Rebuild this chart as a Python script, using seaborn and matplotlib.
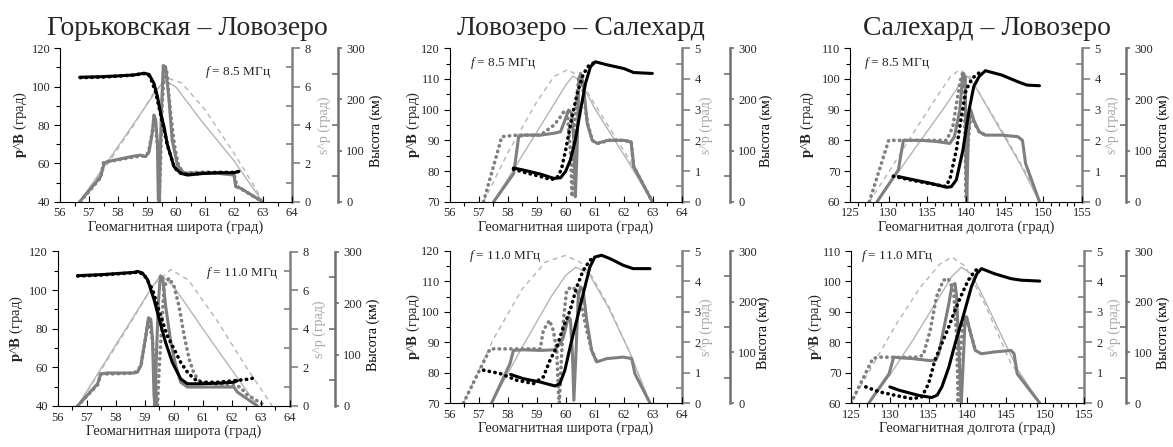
import matplotlib
matplotlib.use("Agg")
import matplotlib.pyplot as plt
import seaborn as sns
from matplotlib.ticker import MultipleLocator

# ---------------- DATA ----------------
titles = ["Горьковская – Ловозеро", "Ловозеро – Салехард", "Салехард – Ловозеро"]
freq_labels = ["8.5 МГц", "11.0 МГц"]
xlabel_lat = "Геомагнитная широта (град)"
xlabel_lon = "Геомагнитная долгота (град)"

# Panel 1: Горьковская – Ловозеро, 8.5 MHz
p1_bs_x = [56.68, 57.4, 58.0, 58.55, 58.9, 59.07, 59.24, 59.36, 59.47, 59.59, 59.7, 59.93, 60.16, 60.4, 60.85, 61.43, 62.0, 62.17]
p1_bs_y = [104.9, 105.2, 105.6, 106.1, 107.0, 106.4, 101.7, 94.8, 86.0, 79.0, 70.0, 58.3, 54.8, 53.9, 54.6, 55.1, 55.1, 55.8]
p1_bd_x = [56.7, 57.5, 58.5, 58.9, 59.1, 59.3, 59.5, 59.7, 59.95, 60.2, 60.5, 61.0, 61.5, 62.0, 62.2]
p1_bd_y = [104.7, 105.0, 106.0, 106.8, 105.5, 97.0, 83.5, 69.5, 57.5, 54.5, 54.2, 55.0, 55.3, 55.3, 55.9]
p1_gs_x = [56.68, 57.4, 57.52, 57.63, 57.98, 58.55, 58.78, 58.95, 59.07, 59.18, 59.24, 59.3, 59.36, 59.39, 59.43, 59.45, 59.49, 59.56, 59.64, 59.76, 59.87, 60.05, 60.28, 60.85, 61.43, 62.0, 62.06, 62.23, 62.98]
p1_gs_y = [0, 1.3, 2.0, 2.09, 2.2, 2.38, 2.43, 2.35, 2.6, 3.57, 4.52, 4.26, 3.04, 0.1, 0, 1.8, 4.4, 7.1, 7.04, 5.3, 3.2, 1.9, 1.48, 1.51, 1.48, 1.39, 0.78, 0.7, 0]
p1_gd_x = [56.7, 57.4, 57.5, 58.0, 58.6, 58.9, 59.05, 59.2, 59.28, 59.38, 59.42, 59.47, 59.52, 59.6, 59.68, 59.8, 59.95, 60.1, 60.3, 61.0, 61.5, 62.0, 62.1, 62.98]
p1_gd_y = [0, 1.25, 2.05, 2.18, 2.35, 2.38, 2.55, 3.8, 4.3, 2.5, 0, 2.2, 5.0, 6.9, 6.8, 4.8, 2.9, 1.8, 1.5, 1.55, 1.5, 1.45, 0.8, 0]
p1_hs_x = [56.68, 57.5, 58.5, 59.2, 59.6, 60.0, 60.85, 62.0, 62.98]
p1_hs_y = [0, 67, 149, 207, 238, 224, 160, 80, 0]
p1_hd_x = [56.68, 57.5, 58.5, 59.2, 59.7, 60.2, 61.0, 62.0, 62.7, 63.0]
p1_hd_y = [0, 62, 146, 210, 242, 232, 180, 95, 30, 0]

# Panel 2: Ловозеро – Салехард, 8.5 MHz
p2_bs_x = [58.2, 58.55, 59.13, 59.59, 59.82, 59.99, 60.16, 60.33, 60.51, 60.68, 60.85, 61.02, 61.43, 62.0, 62.34, 62.98]
p2_bs_y = [81.0, 80.3, 79.0, 77.6, 77.8, 79.8, 83.6, 90.1, 99.9, 108.6, 114.0, 115.6, 114.6, 113.4, 112.1, 111.8]
p2_bd_x = [58.2, 58.6, 59.1, 59.5, 59.7, 59.85, 60.0, 60.2, 60.4, 60.6, 60.8, 61.0]
p2_bd_y = [80.6, 79.5, 78.3, 77.2, 77.8, 80.5, 87.0, 97.0, 105.5, 111.5, 114.5, 115.4]
p2_gs_x = [57.52, 58.21, 58.38, 58.55, 59.13, 59.59, 59.82, 59.93, 60.1, 60.2, 60.28, 60.33, 60.39, 60.45, 60.51, 60.6, 60.74, 60.91, 61.08, 61.43, 62.0, 62.25, 62.34, 62.98]
p2_gs_y = [0, 0.92, 2.12, 2.17, 2.17, 2.23, 2.28, 2.55, 2.99, 2.88, 2.0, 0.16, 1.68, 3.97, 4.18, 3.86, 2.55, 2.0, 1.9, 2.0, 2.0, 1.95, 1.14, 0]
p2_gd_x = [57.17, 57.8, 58.32, 59.13, 59.6, 59.82, 59.93, 60.05, 60.16, 60.22, 60.3, 60.45, 60.57, 60.74, 60.91, 61.1, 61.5, 62.0, 62.25, 62.34, 62.98]
p2_gd_y = [0, 2.12, 2.17, 2.17, 2.5, 2.77, 2.93, 2.95, 1.68, 0.16, 2.5, 4.08, 3.8, 2.6, 2.0, 1.9, 2.0, 2.0, 1.95, 1.14, 0]
p2_hs_x = [57.52, 58.5, 59.5, 60.0, 60.25, 60.5, 61.0, 62.0, 62.98]
p2_hs_y = [0, 90, 182, 228, 246, 236, 182, 92, 0]
p2_hd_x = [57.17, 58.0, 59.0, 59.6, 60.05, 60.4, 61.0, 62.0, 62.98]
p2_hd_y = [0, 95, 195, 245, 258, 248, 190, 100, 0]

# Panel 3: Салехард – Ловозеро, 8.5 MHz
p3_bs_x = [131.25, 133.3, 135.4, 137.5, 138.1, 138.75, 139.6, 140.4, 141.0, 141.7, 142.5, 144.6, 146.7, 147.9, 149.5]
p3_bs_y = [68.2, 67.1, 66.0, 64.7, 64.9, 67.1, 76.8, 89.9, 97.5, 100.8, 102.7, 101.3, 99.1, 98.0, 97.8]
p3_bd_x = [130.6, 133.0, 135.5, 137.3, 137.9, 138.75, 139.4, 140.0, 140.8, 141.7]
p3_bd_y = [68.3, 67.0, 65.8, 65.0, 67.1, 76.8, 87.7, 96.4, 100.2, 102.0]
p3_gs_x = [128.5, 131.25, 131.9, 134.2, 136.25, 137.9, 138.5, 139.2, 139.6, 139.9, 140.0, 140.1, 140.3, 140.6, 141.0, 141.7, 142.5, 144.6, 146.7, 147.3, 147.7, 149.5]
p3_gs_y = [0, 1.03, 2.0, 2.0, 1.96, 1.9, 2.12, 2.99, 4.18, 4.08, 1.14, 0, 2.23, 3.0, 2.66, 2.28, 2.17, 2.17, 2.12, 2.0, 1.25, 0]
p3_gd_x = [127.5, 130.0, 132.0, 135.0, 137.5, 138.3, 139.2, 139.6, 139.8, 140.0, 140.2, 140.6, 141.0, 141.7, 142.5]
p3_gd_y = [0, 2.0, 2.0, 2.0, 2.0, 2.45, 3.86, 4.24, 3.2, 0.16, 1.68, 2.88, 2.6, 2.28, 2.17]
p3_hs_x = [128.5, 131.0, 134.0, 137.0, 139.0, 140.2, 141.5, 144.0, 147.0, 149.5]
p3_hs_y = [0, 53, 117, 180, 225, 245, 218, 152, 74, 0]
p3_hd_x = [127.5, 130.0, 133.0, 136.0, 138.0, 139.2, 140.5, 142.0, 145.0, 148.0, 149.5]
p3_hd_y = [0, 58, 130, 200, 245, 258, 245, 205, 130, 50, 0]

# Panel 4: Горьковская – Ловозеро, 11.0 MHz
p4_bs_x = [56.69, 57.49, 58.64, 58.75, 58.92, 59.1, 59.32, 59.5, 59.72, 59.95, 60.24, 60.47, 60.93, 61.5, 62.07, 62.19]
p4_bs_y = [107.5, 108.0, 109.2, 109.7, 108.9, 105.4, 95.2, 84.9, 72.9, 62.6, 54.0, 51.5, 51.5, 51.8, 52.3, 53.1]
p4_bd_x = [56.7, 57.5, 58.6, 58.8, 59.0, 59.27, 59.55, 59.78, 60.01, 60.24, 60.47, 60.7, 60.93, 61.5, 62.07, 62.65, 62.76]
p4_bd_y = [107.3, 107.8, 109.0, 109.4, 107.5, 100.3, 86.6, 76.3, 69.5, 62.6, 57.5, 54.0, 52.3, 52.3, 53.1, 54.0, 54.7]
p4_gs_x = [56.69, 57.38, 57.49, 57.72, 58.64, 58.75, 58.87, 59.04, 59.13, 59.21, 59.27, 59.32, 59.36, 59.4, 59.47, 59.54, 59.62, 59.72, 59.9, 60.07, 60.24, 60.47, 60.93, 61.5, 62.07, 62.19, 62.88]
p4_gs_y = [0, 1.15, 1.66, 1.71, 1.71, 1.75, 2.1, 3.63, 4.57, 4.49, 3.46, 0.55, 0, 2.43, 5.35, 6.72, 6.63, 5.18, 3.29, 2.09, 1.23, 0.98, 0.98, 0.98, 0.98, 0.72, 0]
p4_gd_x = [56.69, 57.38, 57.49, 58.64, 58.87, 59.13, 59.27, 59.4, 59.44, 59.5, 59.67, 59.84, 60.01, 60.18, 60.36, 60.53, 60.7, 60.93, 61.5, 62.07, 62.3, 62.48, 63.16]
p4_gd_y = [0, 1.1, 1.65, 1.7, 2.05, 4.5, 3.4, 0.5, 0, 2.0, 6.2, 6.63, 6.2, 5.18, 3.63, 2.43, 1.66, 1.23, 1.11, 1.06, 0.98, 0.63, 0]
p4_hs_x = [56.69, 57.5, 58.5, 59.2, 59.55, 60.0, 61.0, 62.0, 62.88]
p4_hs_y = [0, 73, 163, 226, 255, 232, 150, 70, 0]
p4_hd_x = [56.69, 57.5, 58.5, 59.3, 59.9, 60.5, 61.5, 62.5, 63.39]
p4_hd_y = [0, 70, 160, 235, 265, 245, 165, 75, 0]

# Panel 5: Ловозеро – Салехард, 11.0 MHz
p5_bs_x = [58.1, 58.54, 59.12, 59.63, 59.8, 59.97, 60.15, 60.32, 60.49, 60.66, 60.83, 61.0, 61.23, 61.52, 61.98, 62.32, 62.9]
p5_bs_y = [79.4, 78.0, 76.9, 75.6, 76.4, 80.8, 88.4, 95.0, 101.6, 108.2, 114.7, 118.0, 118.6, 117.5, 115.3, 114.2, 114.2]
p5_bd_x = [57.17, 57.74, 58.31, 58.89, 59.23, 59.46, 59.69, 59.92, 60.15, 60.38, 60.6, 60.83, 61.0]
p5_bd_y = [80.8, 79.7, 77.5, 76.4, 78.6, 84.1, 88.4, 95.0, 100.5, 108.2, 113.6, 116.9, 118.2]
p5_gs_x = [57.45, 58.08, 58.2, 58.54, 59.12, 59.63, 59.8, 59.92, 60.09, 60.16, 60.23, 60.28, 60.35, 60.43, 60.51, 60.6, 60.72, 60.89, 61.06, 61.41, 61.98, 62.27, 62.38, 62.9]
p5_gs_y = [0, 1.29, 1.73, 1.75, 1.73, 1.75, 1.95, 2.17, 2.83, 2.75, 1.62, 0.09, 1.62, 3.49, 3.82, 3.7, 2.72, 1.73, 1.35, 1.46, 1.51, 1.46, 0.96, 0]
p5_gd_x = [56.48, 57.23, 57.4, 57.97, 58.54, 59.12, 59.23, 59.44, 59.57, 59.69, 59.75, 59.78, 59.83, 59.92, 60.03, 60.2, 60.38, 60.55, 60.72, 60.89, 61.06]
p5_gd_y = [0, 1.46, 1.78, 1.78, 1.78, 1.78, 2.39, 2.72, 2.39, 1.73, 0.31, 0, 1.07, 2.72, 3.71, 3.82, 3.71, 3.16, 2.39, 1.73, 1.38]
p5_hs_x = [57.45, 58.5, 59.5, 60.0, 60.35, 60.8, 61.5, 62.2, 62.9]
p5_hs_y = [0, 110, 210, 252, 268, 255, 185, 100, 0]
p5_hd_x = [56.48, 57.5, 58.5, 59.3, 59.97, 60.5, 60.9, 61.5, 62.2, 62.9]
p5_hd_y = [0, 125, 225, 278, 291, 278, 250, 188, 100, 0]

# Panel 6: Салехард – Ловозеро, 11.0 MHz
p6_bs_x = [130.0, 131.2, 133.7, 135.4, 136.1, 136.7, 137.6, 138.4, 139.3, 139.9, 140.5, 141.2, 141.8, 143.5, 145.6, 146.9, 149.3]
p6_bs_y = [65.3, 64.2, 62.5, 61.8, 62.6, 65.3, 71.8, 79.5, 87.2, 92.7, 98.2, 102.5, 104.2, 102.5, 100.9, 100.4, 100.1]
p6_bd_x = [126.9, 128.6, 130.7, 132.9, 134.1, 135.0, 135.8, 136.7, 137.6, 138.4, 139.3, 140.1, 141.0, 141.6]
p6_bd_y = [65.3, 63.7, 62.5, 61.4, 62.0, 66.4, 74.1, 79.6, 85.1, 90.6, 96.0, 100.4, 103.6, 104.2]
p6_gs_x = [127.3, 129.9, 130.5, 131.2, 132.9, 135.0, 135.9, 136.3, 136.9, 137.6, 138.0, 138.4, 138.6, 139.05, 139.2, 139.5, 139.7, 139.9, 140.3, 141.0, 141.8, 143.5, 145.6, 146.0, 146.4, 149.3]
p6_gs_y = [0, 0.96, 1.51, 1.49, 1.46, 1.4, 1.4, 1.62, 2.39, 3.27, 3.87, 3.93, 3.49, 0.75, 0, 1.62, 2.83, 2.83, 2.39, 1.73, 1.62, 1.68, 1.73, 1.62, 0.96, 0]
p6_gd_x = [125.0, 127.8, 128.6, 131.0, 133.4, 134.3, 135.2, 136.0, 136.9, 137.5, 138.2, 138.6, 138.8, 139.05, 139.5, 139.9, 140.3, 141.0]
p6_gd_y = [0, 1.46, 1.51, 1.5, 1.51, 1.57, 2.39, 3.49, 4.04, 4.1, 3.71, 2.17, 0, 1.62, 2.83, 2.72, 2.39, 1.73]
p6_hs_x = [127.3, 130.0, 133.0, 136.0, 138.0, 139.2, 140.5, 142.0, 144.0, 146.5, 149.3]
p6_hs_y = [0, 55, 125, 200, 250, 268, 255, 210, 145, 65, 0]
p6_hd_x = [125.0, 128.0, 131.0, 134.0, 136.5, 138.0, 139.7, 142.2, 145.6, 149.3]
p6_hd_y = [0, 80, 160, 230, 275, 288, 270, 196, 78, 0]

# ---------------- STYLE ----------------
sns.set_theme(style="white")
plt.rcParams["font.family"] = ["Liberation Serif", "DejaVu Serif"]
plt.rcParams["mathtext.fontset"] = "custom"
plt.rcParams["mathtext.rm"] = "Liberation Serif"
plt.rcParams["mathtext.it"] = "Liberation Serif:italic"
plt.rcParams["mathtext.bf"] = "Liberation Serif:bold"

W, H = 1173, 447
fig = plt.figure(figsize=(W / 100, H / 100), dpi=100)
fig.patch.set_facecolor("white")

C_BLACK = "#000000"
C_GRAY = "#7f7f7f"
C_LIGHT = "#b5b5b5"
C_SPINE2 = "#808080"
C_SPINE3 = "#707070"
DOT = (0, (0.1, 1.5))
DASH = (0, (3.5, 3))
TICK_FS = 9


def line(ax, x, y, color, lw, ls="-", z=2):
    kw = {}
    if ls is DOT:
        kw["dash_capstyle"] = "round"
    sns.lineplot(x=x, y=y, ax=ax, color=color, linewidth=lw, linestyle=ls,
                 sort=False, estimator=None, zorder=z, **kw)


def panel(box, xlim, xmaj, xmin, plim, pmaj, smax, smaj, data, title, flab, fpos,
          xlabel, lab_off, h_off, title_x=None):
    x0, x1, ytop, ybot = box
    ax = fig.add_axes([x0 / W, 1 - ybot / H, (x1 - x0) / W, (ybot - ytop) / H])
    ax2 = ax.twinx()
    ax3 = ax.twinx()
    ax.set_zorder(3)
    ax2.set_zorder(2)
    ax3.set_zorder(1)
    ax.patch.set_visible(False)
    ax2.patch.set_visible(False)
    ax3.patch.set_visible(True)
    ax3.patch.set_facecolor("white")

    bs, bd, gs, gd, hs, hd = data
    line(ax3, hs[0], hs[1], C_LIGHT, 1.0)
    line(ax3, hd[0], hd[1], C_LIGHT, 1.0, DASH)
    line(ax2, gd[0], gd[1], C_GRAY, 2.6, DOT)
    line(ax2, gs[0], gs[1], C_GRAY, 2.2)
    line(ax, bd[0], bd[1], C_BLACK, 2.6, DOT)
    line(ax, bs[0], bs[1], C_BLACK, 2.2)

    ax.set_xlim(*xlim)
    ax.set_ylim(*plim)
    ax2.set_ylim(0, smax)
    ax3.set_ylim(0, 300)

    # main axis
    for s in ["top", "right"]:
        ax.spines[s].set_visible(False)
    for s in ["left", "bottom"]:
        ax.spines[s].set_color("black")
        ax.spines[s].set_linewidth(0.8)
    ax.xaxis.set_major_locator(MultipleLocator(xmaj))
    ax.xaxis.set_minor_locator(MultipleLocator(xmin))
    ax.yaxis.set_major_locator(MultipleLocator(pmaj))
    ax.yaxis.set_minor_locator(MultipleLocator(pmaj / 2))
    ax.tick_params(axis="x", which="major", direction="in", length=4, width=0.8,
                   color="black", labelsize=TICK_FS, pad=4, bottom=True)
    ax.tick_params(axis="x", which="minor", direction="out", length=3, width=0.8,
                   color="black", bottom=True)
    ax.tick_params(axis="y", which="major", direction="out", length=4, width=0.8,
                   color="black", labelsize=TICK_FS, pad=3, left=True)
    ax.tick_params(axis="y", which="minor", direction="out", length=3, width=0.8,
                   color="black", left=True)
    ax.set_xlabel(xlabel, fontsize=10.5, labelpad=1)
    ax.set_ylabel(r"$\mathbf{p}$^$\mathbf{B}$ (град)", fontsize=10.5)
    ax.yaxis.set_label_coords(-lab_off[0] / (x1 - x0), 0.5)

    # s^p axis
    for s in ["top", "left", "bottom"]:
        ax2.spines[s].set_visible(False)
    ax2.spines["right"].set_color(C_SPINE2)
    ax2.spines["right"].set_linewidth(1.8)
    ax2.yaxis.set_major_locator(MultipleLocator(smaj))
    ax2.yaxis.set_minor_locator(MultipleLocator(smaj / 2))
    ax2.tick_params(axis="y", which="major", direction="out", length=6, width=1.2,
                    color=C_SPINE2, labelsize=TICK_FS, pad=3, right=True)
    ax2.tick_params(axis="y", which="minor", direction="in", length=4, width=1.2,
                    color=C_SPINE2, right=True)
    ax2.set_ylabel("s^p (град)", fontsize=10, color="#a6a6a6")
    ax2.yaxis.set_label_coords(1 + lab_off[1] / (x1 - x0), 0.5)

    # height axis
    for s in ["top", "left", "bottom"]:
        ax3.spines[s].set_visible(False)
    ax3.spines["right"].set_position(("outward", h_off * 0.72))
    ax3.spines["right"].set_color(C_SPINE3)
    ax3.spines["right"].set_linewidth(1.8)
    ax3.yaxis.set_major_locator(MultipleLocator(100))
    ax3.yaxis.set_minor_locator(MultipleLocator(50))
    ax3.tick_params(axis="y", which="major", direction="out", length=3, width=1.2,
                    color=C_SPINE3, labelsize=TICK_FS, pad=3, right=True)
    ax3.tick_params(axis="y", which="minor", direction="in", length=4, width=1.2,
                    color=C_SPINE3, right=True)
    ax3.set_ylabel("Высота (км)", fontsize=10, color="black")
    ax3.yaxis.set_label_coords(1 + lab_off[2] / (x1 - x0), 0.46)
    for a in (ax, ax2, ax3):
        a.grid(False)
    ax2.tick_params(axis="x", bottom=False, labelbottom=False)
    ax3.tick_params(axis="x", bottom=False, labelbottom=False)

    ax.text(fpos[0], fpos[1], r"$f$ = " + flab, transform=ax.transAxes,
            fontsize=9.5, ha="left", va="center", zorder=10)
    if title is not None:
        tx = title_x if title_x is not None else (x0 + x1) / 2
        fig.text(tx / W, 1 - 35 / H, title, fontsize=20, ha="center", va="baseline")


lat_x = dict(xlim=(56, 64), xmaj=1, xmin=0.5)
lon_x = dict(xlim=(125, 155), xmaj=5, xmin=1)

panel((60, 292, 48.3, 201.7), plim=(40, 120), pmaj=20, smax=8, smaj=2,
      data=((p1_bs_x, p1_bs_y), (p1_bd_x, p1_bd_y), (p1_gs_x, p1_gs_y),
            (p1_gd_x, p1_gd_y), (p1_hs_x, p1_hs_y), (p1_hd_x, p1_hd_y)),
      title=titles[0], flab=freq_labels[0], fpos=(0.627, 0.845), xlabel=xlabel_lat,
      lab_off=(31, 26, 78), h_off=46, title_x=187, **lat_x)
panel((449.5, 682, 48.3, 201.7), plim=(70, 120), pmaj=10, smax=5, smaj=1,
      data=((p2_bs_x, p2_bs_y), (p2_bd_x, p2_bd_y), (p2_gs_x, p2_gs_y),
            (p2_gd_x, p2_gd_y), (p2_hs_x, p2_hs_y), (p2_hd_x, p2_hd_y)),
      title=titles[1], flab=freq_labels[0], fpos=(0.088, 0.904), xlabel=xlabel_lat,
      lab_off=(27, 18, 78), h_off=48, title_x=581, **lat_x)
panel((850, 1082, 48.3, 201.7), plim=(60, 110), pmaj=10, smax=5, smaj=1,
      data=((p3_bs_x, p3_bs_y), (p3_bd_x, p3_bd_y), (p3_gs_x, p3_gs_y),
            (p3_gd_x, p3_gd_y), (p3_hs_x, p3_hs_y), (p3_hd_x, p3_hd_y)),
      title=titles[2], flab=freq_labels[0], fpos=(0.06, 0.904), xlabel=xlabel_lon,
      lab_off=(34, 24, 75), h_off=44, title_x=987, **lon_x)
panel((57.5, 290, 251.5, 406), plim=(40, 120), pmaj=20, smax=8, smaj=2,
      data=((p4_bs_x, p4_bs_y), (p4_bd_x, p4_bd_y), (p4_gs_x, p4_gs_y),
            (p4_gd_x, p4_gd_y), (p4_hs_x, p4_hs_y), (p4_hd_x, p4_hd_y)),
      title=None, flab=freq_labels[1], fpos=(0.637, 0.863), xlabel=xlabel_lat,
      lab_off=(32, 23, 77), h_off=45, **lat_x)
panel((449.5, 682, 251, 403), plim=(70, 120), pmaj=10, smax=5, smaj=1,
      data=((p5_bs_x, p5_bs_y), (p5_bd_x, p5_bd_y), (p5_gs_x, p5_gs_y),
            (p5_gd_x, p5_gd_y), (p5_hs_x, p5_hs_y), (p5_hd_x, p5_hd_y)),
      title=None, flab=freq_labels[1], fpos=(0.085, 0.965), xlabel=xlabel_lat,
      lab_off=(27, 18, 75), h_off=48, **lat_x)
panel((851, 1084, 251, 403), plim=(60, 110), pmaj=10, smax=5, smaj=1,
      data=((p6_bs_x, p6_bs_y), (p6_bd_x, p6_bd_y), (p6_gs_x, p6_gs_y),
            (p6_gd_x, p6_gd_y), (p6_hs_x, p6_hs_y), (p6_hd_x, p6_hd_y)),
      title=None, flab=freq_labels[1], fpos=(0.045, 0.965), xlabel=xlabel_lon,
      lab_off=(27, 24, 73), h_off=42, **lon_x)

fig.savefig("out.png", dpi=100, facecolor="white")
